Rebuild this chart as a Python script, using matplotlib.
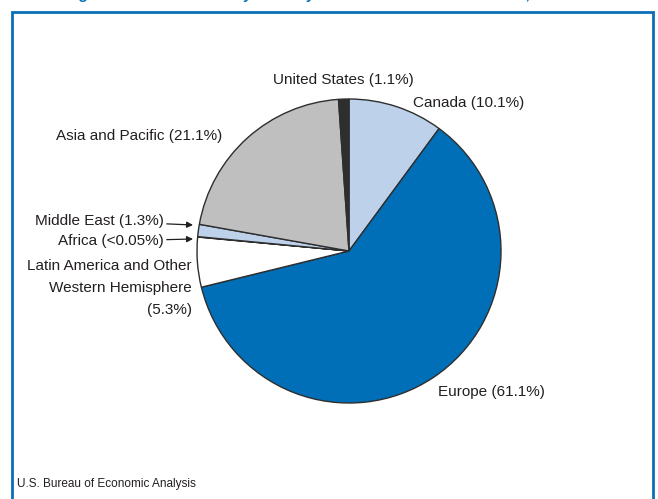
import matplotlib
matplotlib.use("Agg")
import matplotlib.pyplot as plt
from matplotlib.patches import Rectangle

plt.rcParams['font.family'] = ['Liberation Sans', 'DejaVu Sans']

# shares of the position, clockwise from 12 o'clock
regions = ["Canada", "Europe", "Latin America and Other\nWestern Hemisphere", "Africa",
           "Middle East", "Asia and Pacific", "United States"]
shares = [10.1, 61.1, 5.3, 0.04, 1.3, 21.1, 1.1]
share_labels = ["10.1%", "61.1%", "5.3%", "<0.05%", "1.3%", "21.1%", "1.1%"]
colors = ["#bdd1ea", "#006fb7", "#ffffff", "#2e2e2e", "#bdd1ea", "#bfbfbf", "#2e2e2e"]

W, H = 658, 499
fig = plt.figure(figsize=(W / 100, H / 100), dpi=100)
ax = fig.add_axes([0, 0, 1, 1])

# frame around the chart (bottom runs off the page)
ax.add_patch(Rectangle((11.5, -10), 641, H - 12 + 10, fill=False,
                       edgecolor="#0a6fb6", lw=2.0))

# title sits just above the page edge
fig.text(41 / W, 1 + 1.0 / H,
         "Foreign Direct Investment by Country of Ultimate Beneficial Owner, 2012",
         color="#0a6fb6", fontsize=11, fontweight='bold', va='baseline', ha='left')

cx, cy, r = 349, H - 251, 152
ax.pie(shares, colors=colors, startangle=90, counterclock=False,
       center=(cx, cy), radius=r, frame=True,
       wedgeprops=dict(edgecolor="#2e2e2e", linewidth=1.0))
ax.set_xlim(0, W)
ax.set_ylim(0, H)
ax.set_aspect('equal')
ax.axis('off')

fs = 11
tc = "#231f20"
lab = {name: f"{name} ({s})" for name, s in zip(regions, share_labels)}

ax.text(343, H - 80, lab["United States"], ha='center', va='center', fontsize=fs, color=tc)
ax.text(413, H - 103, lab["Canada"], ha='left', va='center', fontsize=fs, color=tc)
ax.text(222, H - 136, lab["Asia and Pacific"], ha='right', va='center', fontsize=fs, color=tc)
ax.text(438, H - 392, lab["Europe"], ha='left', va='center', fontsize=fs, color=tc)
ax.text(192, H - 288, regions[2] + "\n(" + share_labels[2] + ")", ha='right', va='center',
        fontsize=fs, color=tc, linespacing=1.75)

arrow = dict(arrowstyle='-|>', color=tc, lw=0.9, mutation_scale=9, shrinkA=0, shrinkB=0)
ax.annotate(lab["Middle East"], xy=(193, H - 225), xytext=(164, H - 221),
            ha='right', va='center', fontsize=fs, color=tc, arrowprops=arrow)
ax.annotate(lab["Africa"], xy=(193, H - 239), xytext=(164, H - 241),
            ha='right', va='center', fontsize=fs, color=tc, arrowprops=arrow)

ax.text(17, H - 484, "U.S. Bureau of Economic Analysis", ha='left', va='center',
        fontsize=8.5, color=tc)

fig.savefig("out.png", dpi=100)
